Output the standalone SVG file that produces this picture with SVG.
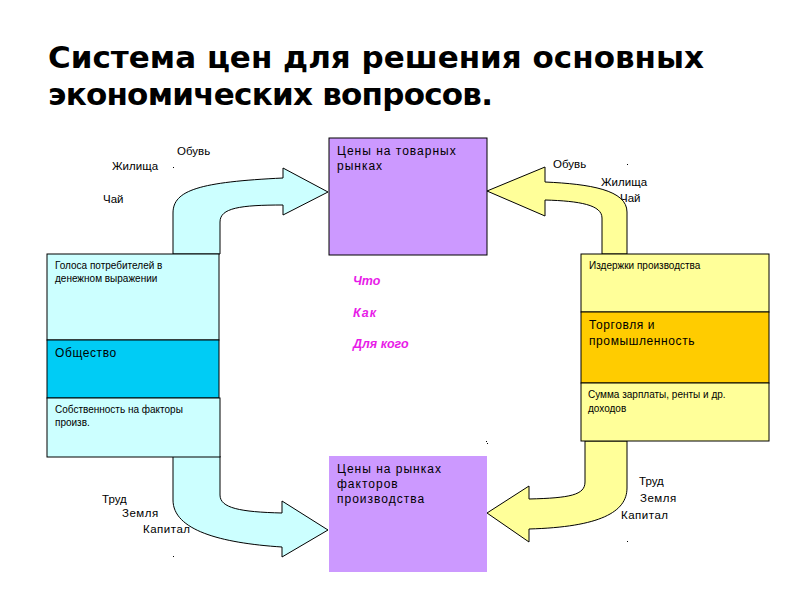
<svg xmlns="http://www.w3.org/2000/svg" width="800" height="600" viewBox="0 0 800 600">
<style>
.t{font-family:"Liberation Sans",Arial,sans-serif;fill:#000}
.s10{font-size:10px}
.s11{font-size:11.5px}
.sp{font-size:12px;letter-spacing:1px}
.title{font-family:"DejaVu Sans",sans-serif;font-weight:bold;font-size:31px;fill:#000}
.q{font-family:"Liberation Sans",Arial,sans-serif;font-size:12.5px;font-weight:bold;font-style:italic;fill:#E81CE8}
.box{stroke:#000;stroke-width:1}
.arrC{fill:#CCFFFF;stroke:#000;stroke-width:1}
.arrY{fill:#FFFF99;stroke:#000;stroke-width:1}
.dot{fill:#000}
</style>
<rect width="800" height="600" fill="#fff"/>
<g id="title">
<text class="title" x="48" y="68" textLength="656" lengthAdjust="spacing">Система цен для решения основных</text>
<text class="title" x="48" y="105" textLength="445" lengthAdjust="spacing">экономических вопросов.</text>
</g>
<g id="connectors">
<path class="arrC" d="M173,254 L173,213 C173,190 200,182 283,178 L283,168 L328,192 L283,215 L283,205 C240,205 220,208 220,222 L220,254 Z"/>
<path class="arrC" d="M173,456 L173,500 C173,530 220,543 282,547 L282,557 L328,530 L282,501 L282,513 C240,512 220,508 220,495 L220,456 Z"/>
<path class="arrY" d="M627,254 L627,212 C627,190 590,184 545,182 L545,167 L487,191 L545,216 L545,200 C580,201 602,205 602,218 L602,254 Z"/>
<path class="arrY" d="M585,441 L585,482 C585,495 570,498 529,499 L529,486 L487,513 L529,542 L529,529 C600,527 627,512 627,488 L627,441 Z"/>
</g>
<g id="goods-prices">
<rect class="box" x="329" y="138" width="158" height="117" fill="#CC99FF"/>
<text class="t sp" x="337" y="155">Цены на товарных</text>
<text class="t sp" x="337" y="170">рынках</text>
</g>
<g id="factor-prices">
<rect x="329" y="456" width="158" height="116" fill="#CC99FF"/>
<text class="t sp" x="337" y="473">Цены на рынках</text>
<text class="t sp" x="337" y="488">факторов</text>
<text class="t sp" x="337" y="503">производства</text>
</g>
<g id="society">
<rect class="box" x="47" y="254" width="172" height="86" fill="#CCFFFF"/>
<text class="t s10" x="55" y="269">Голоса потребителей в</text>
<text class="t s10" x="55" y="282">денежном выражении</text>
<rect class="box" x="47" y="340" width="172" height="58" fill="#00CCF5"/>
<text class="t sp" x="55" y="357" style="letter-spacing:0.6px">Общество</text>
<rect class="box" x="47" y="398" width="173" height="59" fill="#CCFFFF"/>
<text class="t s10" x="55" y="413">Собственность на факторы</text>
<text class="t s10" x="55" y="426">произв.</text>
</g>
<g id="business">
<rect class="box" x="581" y="254" width="188" height="58" fill="#FFFF99"/>
<text class="t s10" x="589" y="269">Издержки производства</text>
<rect class="box" x="581" y="312" width="188" height="71" fill="#FFCC00"/>
<text class="t sp" x="589" y="329" style="letter-spacing:0.6px">Торговля и</text>
<text class="t sp" x="589" y="345" style="letter-spacing:0.6px">промышленность</text>
<rect class="box" x="581" y="383" width="188" height="58" fill="#FFFF99"/>
<text class="t s10" x="588" y="398">Сумма  зарплаты, ренты и др.</text>
<text class="t s10" x="588" y="412">доходов</text>
</g>
<g id="questions">
<text class="q" x="353" y="285">Что</text>
<text class="q" x="353" y="317" style="letter-spacing:1px">Как</text>
<text class="q" x="353" y="348">Для кого</text>
</g>
<g id="labels">
<text class="t s11" x="177" y="155">Обувь</text>
<text class="t s11" x="112" y="170">Жилища</text>
<text class="t s11" x="103" y="203">Чай</text>
<text class="t s11" x="553" y="168">Обувь</text>
<text class="t s11" x="601" y="186">Жилища</text>
<text class="t s11" x="620" y="202">Чай</text>
<text class="t s11" x="102" y="503">Труд</text>
<text class="t s11" x="122" y="517" style="letter-spacing:0.5px">Земля</text>
<text class="t s11" x="143" y="533" style="letter-spacing:0.5px">Капитал</text>
<text class="t s11" x="639" y="485">Труд</text>
<text class="t s11" x="640" y="502" style="letter-spacing:0.5px">Земля</text>
<text class="t s11" x="621" y="519" style="letter-spacing:0.5px">Капитал</text>
<rect class="dot" x="173" y="167" width="1" height="1"/>
<rect class="dot" x="627" y="164" width="1" height="1"/>
<rect class="dot" x="173" y="556" width="1" height="1"/>
<rect class="dot" x="487" y="443" width="1" height="1"/>
<rect class="dot" x="627" y="541" width="1" height="1"/>
<rect class="dot" x="486" y="441" width="1" height="1"/>
</g>
</svg>
